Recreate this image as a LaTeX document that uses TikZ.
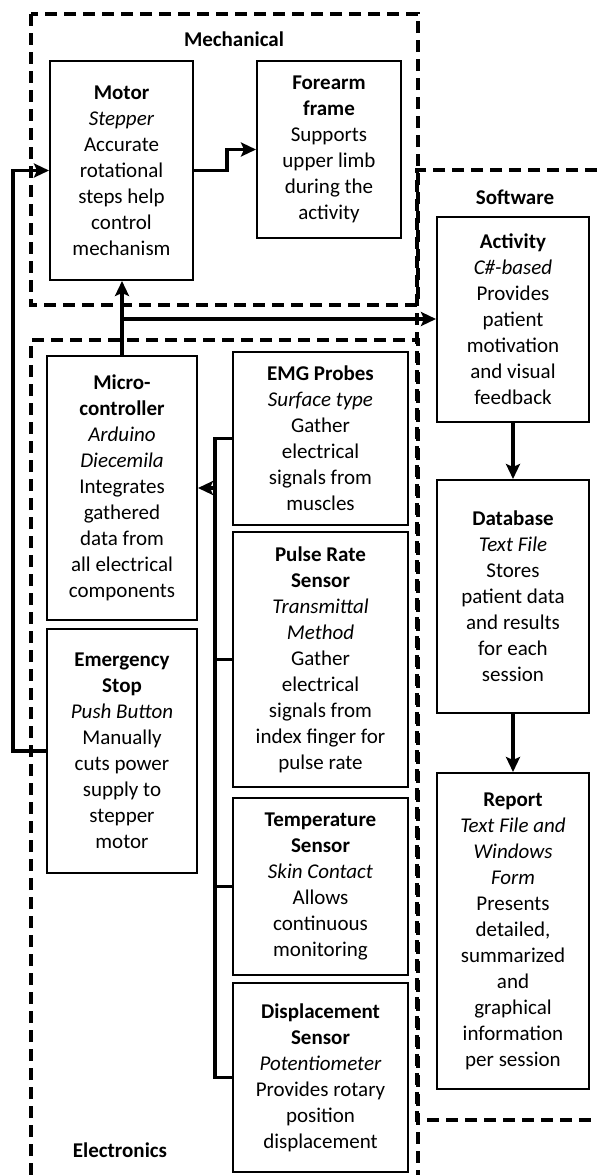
\documentclass[tikz,border=0pt]{standalone}
\usepackage{fontspec}
\setmainfont{Carlito}
\usetikzlibrary{arrows.meta}
\begin{document}
\begin{tikzpicture}[x=1pt,y=-1pt,
  blk/.style={draw, line width=2pt, align=center, inner sep=0pt, font=\fontsize{21}{26}\selectfont},
  grp/.style={line width=3.4pt, dash pattern=on 12pt off 7pt},
  conn/.style={line width=3.4pt},
  arr/.style={conn, -{Stealth[length=15pt,width=14pt,inset=3pt]}},
  ttl/.style={font=\fontsize{21}{26}\selectfont\bfseries, inner sep=0pt}]
\useasboundingbox (0,0) rectangle (597,1175);
% group frames
\draw[grp] (31,14) rectangle (418,305);
\draw[grp] (31,1175) -- (31,340) -- (418,340) -- (418,1175);
\draw[grp] (597,170) -- (417,170) -- (417,1120) -- (597,1120);
\node[ttl] (mech) at (234,39) {Mechanical};
\node[ttl] (soft) at (515,197) {Software};
\node[ttl] (elec) at (120,1150) {Electronics};
% mechanical
\node[blk, minimum width=143pt, minimum height=219pt] (motor) at (121.5,170.5)
  {\textbf{Motor}\\\textit{Stepper}\\Accurate\\rotational\\steps help\\control\\mechanism};
\node[blk, minimum width=144pt, minimum height=177pt] (frame) at (329,149.5)
  {\textbf{Forearm}\\\textbf{frame}\\Supports\\upper limb\\during the\\activity};
% electronics
\node[blk, minimum width=150pt, minimum height=264pt] (micro) at (122,488)
  {\textbf{Micro-}\\\textbf{controller}\\\textit{Arduino}\\\textit{Diecemila}\\Integrates\\gathered\\data from\\all electrical\\components};
\node[blk, minimum width=150pt, minimum height=244pt] (estop) at (122,751)
  {\textbf{Emergency}\\\textbf{Stop}\\\textit{Push Button}\\Manually\\cuts power\\supply to\\stepper\\motor};
\node[blk, minimum width=175pt, minimum height=173pt] (emg) at (320.5,438.5)
  {\textbf{EMG Probes}\\\textit{Surface type}\\Gather\\electrical\\signals from\\muscles};
\node[blk, minimum width=175pt, minimum height=255pt] (pulse) at (320.5,659.5)
  {\textbf{Pulse Rate}\\\textbf{Sensor}\\\textit{Transmittal}\\\textit{Method}\\Gather\\electrical\\signals from\\index finger for\\pulse rate};
\node[blk, minimum width=175pt, minimum height=177pt] (temp) at (320.5,886.5)
  {\textbf{Temperature}\\\textbf{Sensor}\\\textit{Skin Contact}\\Allows\\continuous\\monitoring};
\node[blk, minimum width=175pt, minimum height=189pt] (disp) at (320.5,1077.5)
  {\textbf{Displacement}\\\textbf{Sensor}\\\textit{Potentiometer}\\Provides rotary\\position\\displacement};
% software
\node[blk, minimum width=152pt, minimum height=205pt] (act) at (513,319.5)
  {\textbf{Activity}\\\textit{C\#-based}\\Provides\\patient\\motivation\\and visual\\feedback};
\node[blk, minimum width=152pt, minimum height=233pt] (db) at (513,596.5)
  {\textbf{Database}\\\textit{Text File}\\Stores\\patient data\\and results\\for each\\session};
\node[blk, minimum width=152pt, minimum height=316pt] (rep) at (513,931)
  {\textbf{Report}\\\textit{Text File and}\\\textit{Windows}\\\textit{Form}\\Presents\\detailed,\\summarized\\and\\graphical\\information\\per session};
% connectors
\draw[arr] (motor.east) -- ++(33,0) |- (frame.west);
\draw[arr] (estop.west) -- ++(-33,0) |- (motor.west);
\draw[arr] (micro.north) -- (micro.north |- motor.south);
\coordinate (j1) at (122,319);
\draw[arr] (j1) -- (j1 -| act.west);
\coordinate (bt) at (215,438.5);
\coordinate (bb) at (215,1077.5);
\draw[conn] (emg.west) -- (bt) -- (bb) -- (disp.west);
\draw[conn] (pulse.west) -- (pulse.west -| bt);
\draw[conn] (temp.west) -- (temp.west -| bt);
\coordinate (bm) at (215,488);
\draw[arr] (bm) -- (micro.east);
\draw[arr] (act.south) -- (db.north);
\draw[arr] (db.south) -- (rep.north);
\end{tikzpicture}
\end{document}
